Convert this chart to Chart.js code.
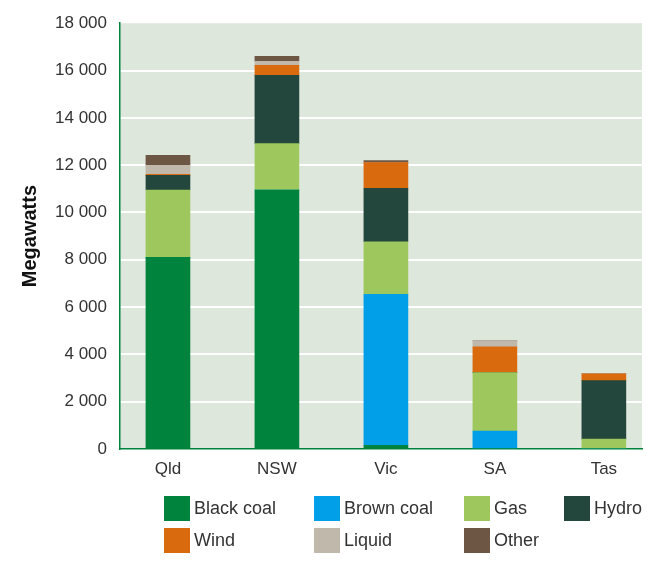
<!DOCTYPE html>
<html>
<head>
<meta charset="utf-8">
<script src="https://cdn.jsdelivr.net/npm/chart.js@4"></script>
<style>
  html, body { margin: 0; padding: 0; background: #ffffff; }
  #wrap { width: 661px; height: 562px; position: relative; }
</style>
</head>
<body>
<div id="wrap"><canvas id="c" width="661" height="562"></canvas></div>
<script>
// ---- data ----
const categories = ['Qld', 'NSW', 'Vic', 'SA', 'Tas'];
const blackCoal = [8100, 10950, 160, 0, 0];
const brownCoal = [0, 0, 6380, 760, 0];
const gas       = [2850, 1960, 2220, 2470, 420];
const hydro     = [620, 2890, 2260, 0, 2470];
const wind      = [40, 420, 1090, 1090, 290];
const liquid    = [380, 170, 0, 250, 0];
const other     = [420, 210, 85, 0, 0];
const seriesNames = ['Black coal', 'Brown coal', 'Gas', 'Hydro', 'Wind', 'Liquid', 'Other'];
const yTicks = [0, 2000, 4000, 6000, 8000, 10000, 12000, 14000, 16000, 18000];

const colors = ['#00843d', '#009fe8', '#9ec85e', '#23463d', '#d96a0e', '#c1b8ac', '#6d5644'];
const seriesValues = [blackCoal, brownCoal, gas, hydro, wind, liquid, other];

const fmt = v => String(v).replace(/\B(?=(\d{3})+(?!\d))/g, ' ');
const FONT = "'Liberation Sans', Arial, Helvetica, sans-serif";
const TEXT = '#333333';

const bgPlugin = {
  id: 'bg',
  beforeDraw(chart) {
    const a = chart.chartArea, ctx = chart.ctx;
    ctx.save();
    ctx.fillStyle = '#dee7dc';
    ctx.fillRect(a.left, a.top, a.right - a.left, a.bottom - a.top);
    ctx.restore();
  }
};

const legendPlugin = {
  id: 'customLegend',
  afterDraw(chart) {
    const ctx = chart.ctx;
    const cols = [164, 314, 464, 564];
    const rows = [496, 528];
    ctx.save();
    ctx.font = '18px ' + FONT;
    ctx.textBaseline = 'middle';
    ctx.textAlign = 'left';
    seriesNames.forEach((name, i) => {
      const x = cols[i % 4], y = rows[Math.floor(i / 4)];
      ctx.fillStyle = colors[i];
      ctx.fillRect(x, y, 26, 25);
      ctx.fillStyle = TEXT;
      ctx.fillText(name, x + 30, y + 13);
    });
    ctx.restore();
  }
};

new Chart(document.getElementById('c'), {
  type: 'bar',
  data: {
    labels: categories.map((_, i) => i),
    datasets: seriesNames.map((name, i) => ({
      label: name,
      data: seriesValues[i],
      backgroundColor: colors[i],
      borderWidth: 0,
      barThickness: 44
    }))
  },
  options: {
    responsive: false,
    animation: false,
    layout: { padding: { top: 20, right: 19, bottom: 0, left: 0 } },
    plugins: { legend: { display: false }, tooltip: { enabled: false } },
    scales: {
      x: {
        type: 'linear',
        bounds: 'data',
        offset: false,
        stacked: true,
        min: -0.44,
        max: 4.35,
        afterBuildTicks(scale) { scale.ticks = categories.map((_, i) => ({ value: i })); },
        afterFit(scale) { scale.height = 113; },
        grid: { display: false, drawTicks: false, offset: false },
        border: { display: true, color: '#00843d', width: 1.5 },
        ticks: {
          autoSkip: false,
          maxRotation: 0,
          padding: 10,
          color: TEXT,
          font: { family: FONT, size: 17 },
          callback: v => categories[v]
        }
      },
      y: {
        stacked: true,
        min: 0,
        max: 18000,
        afterBuildTicks(scale) { scale.ticks = yTicks.map(v => ({ value: v })); },
        afterFit(scale) { scale.width = 120; },
        grid: { color: ctx => ctx.tick && ctx.tick.value === 18000 ? 'rgba(0,0,0,0)' : '#ffffff', lineWidth: 2, drawTicks: false },
        border: { display: true, color: '#00843d', width: 1.5 },
        ticks: {
          padding: 13,
          color: TEXT,
          font: { family: FONT, size: 17 },
          callback: v => fmt(v)
        },
        title: {
          display: true,
          text: 'Megawatts',
          color: '#111111',
          font: { family: FONT, size: 20, weight: 'bold' },
          padding: { top: 18, bottom: 0 }
        }
      }
    }
  },
  plugins: [bgPlugin, legendPlugin]
});
</script>
</body>
</html>
